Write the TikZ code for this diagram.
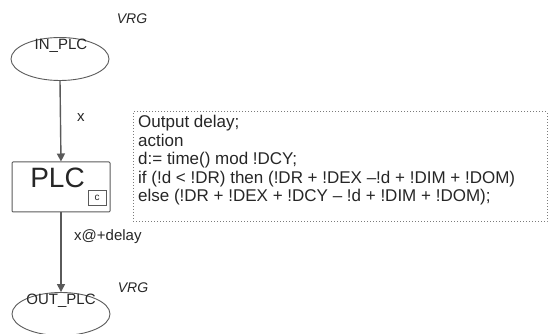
\documentclass[tikz,border=0pt]{standalone}
\usepackage{fontspec}
\setmainfont{Liberation Sans}
\usetikzlibrary{shapes.geometric,arrows.meta}
\definecolor{ln}{HTML}{5A5A5A}
\definecolor{tx}{HTML}{262626}
\tikzset{
  place/.style={draw=ln, line width=0.9pt, ellipse, minimum width=98pt, minimum height=43pt, inner sep=0pt},
  trans/.style={draw=ln, line width=1pt, rectangle, rounded corners=1pt, minimum width=98pt, minimum height=50pt, inner sep=0pt},
  arc/.style={draw=ln, line width=1.4pt, -{Triangle[length=8pt,width=8pt]}},
  lbl/.style={text=tx, font=\fontsize{15}{17}\selectfont, inner sep=0pt},
  declline/.style={text=tx, font=\fontsize{17}{19}\selectfont, inner sep=0pt, anchor=base west},
}
\begin{document}
\begin{tikzpicture}[x=1pt,y=-1pt]
\useasboundingbox (0,0) rectangle (550,334);
% places
\node[place] (in) at (60,59) {};
\node[place] (out) at (61,314) {};
\node[lbl] (inl) at (61,46) {IN\_PLC};
\node[lbl] (outl) at (61,301) {OUT\_PLC};
\node[lbl, font=\itshape\fontsize{14}{16}\selectfont] (vrg1) at (132,19) {VRG};
\node[lbl, font=\itshape\fontsize{14}{16}\selectfont] (vrg2) at (133,288) {VRG};
% transition
\node[trans] (plc) at (61,187) {};
\node[text=tx, inner sep=0pt, font=\fontsize{28}{30}\selectfont] (plct) at (57.5,178) {PLC};
\node[draw=ln, line width=1pt, minimum width=18pt, minimum height=15pt, inner sep=0pt, font=\fontsize{10}{11}\selectfont, text=tx] (cb) at (97,198) {c};
% arcs
\draw[arc] (in.south) -- (plc.north);
\draw[arc] (plc.south) -- (out.north);
\node[lbl] (xl) at (81,118) {x};
\node[lbl, anchor=west] (xd) at (74,237) {x@+delay};
% declaration box
\node[draw=ln!80, dotted, line width=1pt, minimum width=414pt, minimum height=110pt, inner sep=0pt] (decl) at (340,167) {};
\node[declline] (d1) at (138,128) {Output delay;};
\node[declline] (d2) at (138,146.5) {action};
\node[declline] (d3) at (138,165) {d:= time() mod !DCY;};
\node[declline] (d4) at (138,183.5) {if (!d < !DR) then (!DR + !DEX –!d + !DIM + !DOM)};
\node[declline] (d5) at (138,202) {else (!DR + !DEX + !DCY – !d + !DIM + !DOM);};
\end{tikzpicture}
\end{document}
